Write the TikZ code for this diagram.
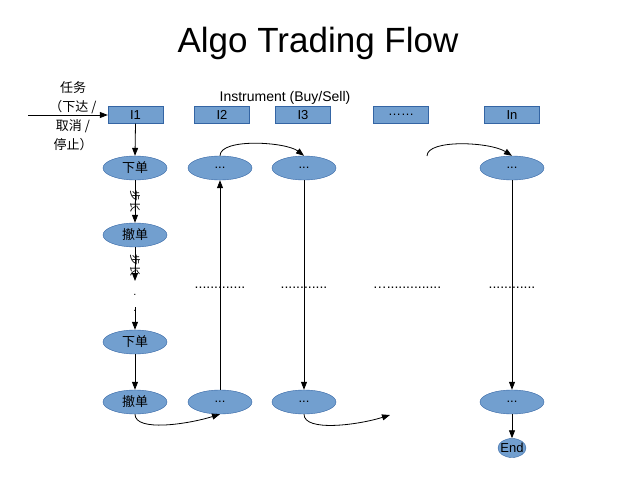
\documentclass[tikz,border=0pt]{standalone}
\usepackage{fontspec}
\setmainfont{Liberation Sans}
\newfontfamily\cjk{Noto Sans CJK SC}
\usetikzlibrary{shapes.geometric,arrows.meta}
\definecolor{boxfill}{HTML}{729FCF}
\definecolor{boxline}{HTML}{3465A4}
\begin{document}
\begin{tikzpicture}[x=1pt,y=-1pt,
  inst/.style={draw=boxline,fill=boxfill,minimum width=55,minimum height=17,inner sep=0,font=\fontsize{13}{15}\selectfont},
  op/.style={ellipse,draw=boxline,fill=boxfill,minimum width=64,minimum height=24,inner sep=0,font=\fontsize{13}{15}\selectfont},
  endop/.style={ellipse,draw=boxline,fill=boxfill,minimum width=28,minimum height=19,inner sep=0},
  arr/.style={-{Triangle[length=8,width=6]},line width=0.8},
  dotrow/.style={font=\fontsize{14}{16}\selectfont,inner sep=0},
  steplbl/.style={font=\cjk\fontsize{11}{12}\selectfont,rotate=-90,inner sep=0}]
\useasboundingbox (0,0) rectangle (638,479);

\node[font=\fontsize{35}{40}\selectfont] (title) at (318,43) {Algo Trading Flow};
\node[font=\fontsize{14}{16}\selectfont] (instlbl) at (285,98) {Instrument (Buy/Sell)};

\node[inst] (i1) at (135.5,115) {I1};
\node[inst] (i2) at (222,115) {I2};
\node[inst] (i3) at (303,115) {I3};
\node[inst] (idots) at (401,115) {……};
\node[inst] (in) at (512,115) {In};

\node[font=\cjk\fontsize{13}{19}\selectfont,align=center] (task) at (73,116) {任务\\（下达 /\\取消 /\\停止）};
\coordinate (tstart) at (28,115);
\draw[arr] (tstart) -- (i1.west);

% column 1
\node[op] (a1) at (135,168) {\cjk 下单};
\node[op] (a2) at (135,235) {\cjk 撤单};
\node[op] (a3) at (135,342) {\cjk 下单};
\node[op] (a4) at (135,402) {\cjk 撤单};
\coordinate (s1) at (135,281);
\coordinate (s2) at (135,307);
\draw[arr] (i1.south) -- (a1.north);
\draw[arr] (a1.south) -- (a2.north);
\node[steplbl] (st1) at (135,201) {步长};
\draw[arr] (a2.south) -- (s1);
\node[steplbl] (st2) at (135,265) {步长};
\node[font=\fontsize{11}{16}\selectfont,align=center,inner sep=0] (vd) at (135,303) {.\\.};
\draw[arr] (s2) -- (a3.north);
\draw[arr] (a3.south) -- (a4.north);

% column 2
\node[op] (b1) at (220,168) {...};
\node[op] (b2) at (220,402) {...};
\draw[arr] (b2.north) -- (b1.south);
\node[dotrow] (bd) at (220,288) {.............};

% column 3
\node[op] (c1) at (304,168) {...};
\node[op] (c2) at (304,402) {...};
\draw[arr] (c1.south) -- (c2.north);
\node[dotrow] (cd) at (304,288) {............};

% middle
\node[dotrow] (md) at (407,288) {…..............};

% column n
\node[op] (d1) at (512,168) {...};
\node[op] (d2) at (512,402) {...};
\node[endop,label={[font=\fontsize{13}{15}\selectfont]center:End}] (e) at (512,448) {};
\draw[arr] (d1.south) -- (d2.north);
\draw[arr] (d2.south) -- (e.north);
\node[dotrow] (dd) at (512,288) {............};

% curves
\draw[arr] (b1.north) .. controls +(0,-18) and +(-18,-14) .. (c1.north);
\coordinate (fstart) at (427,156);
\draw[arr] (fstart) .. controls +(0,-17) and +(-22,-14) .. (d1.north);
\draw[arr] (a4.south) .. controls +(0,18) and +(-32,10) .. (b2.south);
\coordinate (fend) at (390,415);
\draw[arr] (c2.south) .. controls +(0,18) and +(-32,10) .. (fend);
\end{tikzpicture}
\end{document}
